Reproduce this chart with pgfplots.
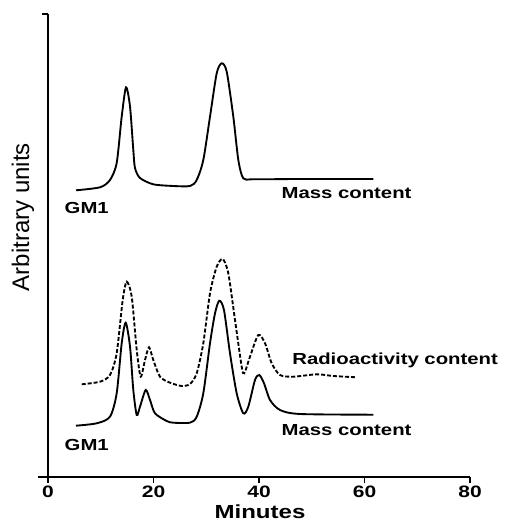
\documentclass[border=0pt]{standalone}
\usepackage{fontspec}
\setmainfont{Liberation Sans}
\newfontfamily\lab[FakeStretch=1.27]{Liberation Sans}
\usepackage{pgfplots}
\pgfplotsset{compat=1.18}

\begin{document}
\begin{tikzpicture}
\begin{axis}[
  at={(28.5pt,30.75pt)}, anchor=south west,
  scale only axis, width=324pt, height=349.5pt,
  xmin=-1.896, xmax=80, ymin=-3, ymax=463,
  axis lines=middle,
  axis line style={-, line width=1.1pt},
  hide obscured x ticks=false,
  hide obscured y ticks=false,
  xtick={0,20,40,60,80},
  ytick={463}, yticklabels={},
  tick align=outside,
  major tick length=4.5pt,
  tick style={line width=1.1pt, black},
  tick label style={font=\lab\bfseries\fontsize{12.4}{13}\selectfont, inner sep=1pt},
  xticklabel style={yshift=-1pt},
  /pgf/number format/assume math mode=true,
  clip=false,
]
% upper trace: mass content
\addplot[black, line width=1.4pt, smooth, tension=0.45] coordinates {
  (5.31,286.7)(9.86,289.7)(11.75,297)(13.02,314)(13.97,360.3)(14.79,389.7)
  (15.55,370.3)(16.17,327)(16.49,309)(17.44,299)(19.96,292.7)(23.75,291)
  (26.92,291)(28.19,297)(29.44,317)(30.71,360.3)(31.98,403.7)(32.93,413.7)
  (33.88,405.3)(35.13,360.3)(36.08,317)(37.02,298.7)(38.92,297.7)(47.77,298)
  (61.67,298)};
% lower trace: radioactivity content
\addplot[black, line width=1.4pt, dash pattern=on 3pt off 1.5pt, smooth, tension=0.45] coordinates {
  (6.39,92.7)(9.86,95.3)(11.75,102)(13.02,123.7)(14.16,177)(14.92,195.3)
  (15.87,180.3)(16.82,127)(17.57,100.3)(18.39,117)(19.15,129.7)(19.96,117)
  (21.23,100.3)(23.13,94.3)(25.35,91)(26.92,93)(28.19,103.7)(29.44,133.7)
  (30.71,183.7)(31.98,210.3)(33.12,218)(34.18,203.7)(35.45,157)(36.72,110.3)
  (37.21,103.7)(38.29,120.3)(39.87,142)(41.14,133.7)(42.41,113.7)(43.98,102)
  (46.50,100.3)(50.94,102.7)(54.08,101)(58.52,99.7)};
% lower trace: mass content
\addplot[black, line width=1.4pt, smooth, tension=0.45] coordinates {
  (5.31,51.3)(9.23,53.7)(11.75,60.3)(13.02,83.7)(13.97,133.7)(14.73,154.3)
  (15.55,130.3)(16.17,87)(16.82,62)(17.44,70.3)(18.52,87)(19.34,77)
  (20.28,63.7)(22.50,56)(23.75,54.3)(26.92,54.3)(28.19,60.3)(29.44,83.7)
  (30.71,133.7)(31.66,163.7)(32.47,176.3)(33.36,167)(34.50,123.7)(35.77,83.7)
  (37.02,63.7)(37.97,70.3)(39.24,97)(40.06,102)(40.95,93.7)(42.09,77)
  (43.98,67)(47.77,63)(61.67,62.3)};
\begin{scope}[every node/.style={font=\lab\bfseries\fontsize{12}{14}\selectfont, anchor=base}]
\node at (axis cs:56.6,278) {Mass content};
\node at (axis cs:7.34,263) {GM1};
\node at (axis cs:65.8,112.7) {Radioactivity content};
\node at (axis cs:56.6,42) {Mass content};
\node at (axis cs:7.34,26.3) {GM1};
\end{scope}
\end{axis}
\node[rotate=90, font=\fontsize{18}{20}\selectfont] at (17.25pt,228pt) {Arbitrary units};
\node[anchor=base, inner sep=0pt, font=\lab\bfseries\fontsize{14.2}{15}\selectfont] at (195pt,2.2pt) {Minutes};
\pgfresetboundingbox
\useasboundingbox (0,0) rectangle (378pt,390.75pt);
\end{tikzpicture}
\end{document}
